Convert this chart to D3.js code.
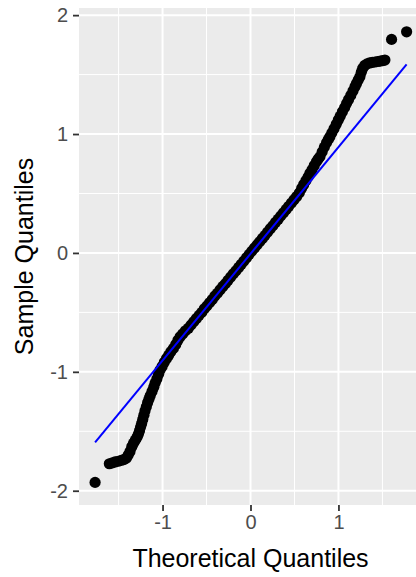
<!DOCTYPE html>
<html>
<head>
<meta charset="utf-8">
<script src="https://cdn.jsdelivr.net/npm/d3@7"></script>
<style>
  html, body { margin: 0; padding: 0; background: #fff; overflow: hidden; }
  svg { display: block; font-family: "Liberation Sans", Arial, sans-serif; }
</style>
</head>
<body>
<svg id="chart" width="416" height="577"></svg>
<script>
// Theoretical quantiles (x) and sample quantiles (y)
const theoretical = [
  -1.767, -1.605, -1.570, -1.540, -1.505, -1.470, -1.440, -1.410, -1.390, -1.370,
  -1.350, -1.330, -1.310, -1.290, -1.275, -1.262, -1.250, -1.238, -1.225, -1.212,
  -1.200, -1.185, -1.170, -1.155, -1.140, -1.120, -1.100, -1.085, -1.065, -1.045,
  -1.028, -1.005, -0.980, -0.955, -0.930, -0.905, -0.877, -0.850, -0.825, -0.800,
  -0.770, -0.740, -0.706,
  -0.675, -0.645, -0.615, -0.585, -0.555, -0.525, -0.495, -0.465, -0.435, -0.405,
  -0.375, -0.345, -0.315, -0.285, -0.255, -0.225, -0.195, -0.165, -0.135, -0.105,
  -0.075, -0.045, -0.015, 0.015, 0.045, 0.075, 0.105, 0.135, 0.165, 0.195,
  0.225, 0.255, 0.285, 0.315, 0.345, 0.375, 0.405, 0.435, 0.465, 0.495,
  0.525, 0.555,
  0.582, 0.605, 0.630, 0.655, 0.676, 0.700, 0.725, 0.750, 0.770, 0.790,
  0.815, 0.840, 0.865, 0.885, 0.903, 0.925, 0.950, 0.975, 0.998, 1.020,
  1.045, 1.070, 1.093, 1.115, 1.140, 1.165, 1.188, 1.205, 1.225, 1.244,
  1.260, 1.275, 1.300, 1.325, 1.355, 1.385, 1.415, 1.445, 1.475, 1.505,
  1.528, 1.604, 1.775
];
const sample = [
  -1.930, -1.773, -1.765, -1.758, -1.752, -1.745, -1.738, -1.725, -1.700, -1.670,
  -1.630, -1.600, -1.575, -1.550, -1.525, -1.495, -1.465, -1.435, -1.400, -1.365,
  -1.330, -1.295, -1.260, -1.230, -1.200, -1.165, -1.130, -1.095, -1.060, -1.020,
  -0.985, -0.955, -0.920, -0.888, -0.860, -0.830, -0.803, -0.770, -0.735, -0.705,
  -0.680, -0.655, -0.633,
  -0.605, -0.578, -0.552, -0.525, -0.500, -0.470, -0.445, -0.418, -0.392, -0.362,
  -0.338, -0.310, -0.282, -0.258, -0.230, -0.202, -0.175, -0.150, -0.122, -0.095,
  -0.068, -0.040, -0.012, 0.015, 0.042, 0.068, 0.095, 0.122, 0.148, 0.176,
  0.204, 0.230, 0.258, 0.284, 0.312, 0.338, 0.366, 0.392, 0.420, 0.448,
  0.474, 0.505,
  0.544, 0.575, 0.608, 0.640, 0.670, 0.700, 0.735, 0.768, 0.790, 0.810,
  0.850, 0.890, 0.928, 0.955, 0.977, 1.010, 1.045, 1.082, 1.118, 1.150,
  1.188, 1.222, 1.258, 1.290, 1.325, 1.362, 1.398, 1.425, 1.455, 1.482,
  1.520, 1.552, 1.578, 1.590, 1.598, 1.603, 1.606, 1.610, 1.614, 1.618,
  1.622, 1.796, 1.860
];
// Reference line endpoints (theoretical x, sample y)
const lineX = [-1.767, 1.775];
const lineY = [-1.594, 1.586];

const xTicks = [-1, 0, 1];
const yTicks = [-2, -1, 0, 1, 2];
const xMinor = [-1.5, -0.5, 0.5, 1.5];
const yMinor = [-1.5, -0.5, 0.5, 1.5];
const xTitle = "Theoretical Quantiles";
const yTitle = "Sample Quantiles";

const svg = d3.select("#chart");
const panel = { left: 79, right: 422, top: 8, bottom: 505 };

const x = d3.scaleLinear().domain([-1.95, 1.95]).range([panel.left, panel.right]);
const y = d3.scaleLinear().domain([-2.12, 2.06]).range([panel.bottom, panel.top]);

// panel background
svg.append("rect")
  .attr("x", panel.left).attr("y", panel.top)
  .attr("width", panel.right - panel.left).attr("height", panel.bottom - panel.top)
  .attr("fill", "#EBEBEB");

const grid = svg.append("g");
// minor grid
grid.selectAll("line.xmin").data(xMinor).join("line")
  .attr("x1", d => x(d)).attr("x2", d => x(d))
  .attr("y1", panel.top).attr("y2", panel.bottom)
  .attr("stroke", "#fff").attr("stroke-width", 1);
grid.selectAll("line.ymin").data(yMinor).join("line")
  .attr("class", "ymin")
  .attr("y1", d => y(d)).attr("y2", d => y(d))
  .attr("x1", panel.left).attr("x2", panel.right)
  .attr("stroke", "#fff").attr("stroke-width", 1);
// major grid
grid.selectAll("line.xmaj").data(xTicks).join("line")
  .attr("class", "xmaj")
  .attr("x1", d => x(d)).attr("x2", d => x(d))
  .attr("y1", panel.top).attr("y2", panel.bottom)
  .attr("stroke", "#fff").attr("stroke-width", 2);
grid.selectAll("line.ymaj").data(yTicks).join("line")
  .attr("class", "ymaj")
  .attr("y1", d => y(d)).attr("y2", d => y(d))
  .attr("x1", panel.left).attr("x2", panel.right)
  .attr("stroke", "#fff").attr("stroke-width", 2);

// points
const pts = theoretical.map((t, i) => ({ t, s: sample[i] }));
svg.append("g").selectAll("circle").data(pts).join("circle")
  .attr("cx", d => x(d.t)).attr("cy", d => y(d.s))
  .attr("r", 5.6).attr("fill", "#000");

// reference line
svg.append("line")
  .attr("x1", x(lineX[0])).attr("y1", y(lineY[0]))
  .attr("x2", x(lineX[1])).attr("y2", y(lineY[1]))
  .attr("stroke", "#0000FF").attr("stroke-width", 2);

// axes
const xAxis = d3.axisBottom(x).tickValues(xTicks).tickSize(6).tickPadding(4).tickFormat(d3.format("d"));
const yAxis = d3.axisLeft(y).tickValues(yTicks).tickSize(6).tickPadding(5).tickFormat(d3.format("d"));

const gx = svg.append("g").attr("transform", `translate(0,${panel.bottom})`).call(xAxis);
const gy = svg.append("g").attr("transform", `translate(${panel.left},0)`).call(yAxis);
[gx, gy].forEach(g => {
  g.select(".domain").remove();
  g.selectAll(".tick line").attr("stroke", "#333333").attr("stroke-width", 1.8);
  g.selectAll(".tick text").attr("fill", "#4D4D4D").style("font-size", "20px")
    .style("font-family", "'Liberation Sans', Arial, sans-serif");
});
gy.selectAll(".tick text").text(d => d < 0 ? "-" + Math.abs(d) : d);
gx.selectAll(".tick text").text(d => d < 0 ? "-" + Math.abs(d) : d);

// titles
svg.append("text")
  .attr("x", (panel.left + panel.right) / 2).attr("y", 567)
  .attr("text-anchor", "middle").attr("fill", "#000")
  .style("font-size", "25px").text(xTitle);
svg.append("text")
  .attr("transform", `translate(33,${(panel.top + panel.bottom) / 2}) rotate(-90)`)
  .attr("text-anchor", "middle").attr("fill", "#000")
  .style("font-size", "25px").text(yTitle);
</script>
</body>
</html>
